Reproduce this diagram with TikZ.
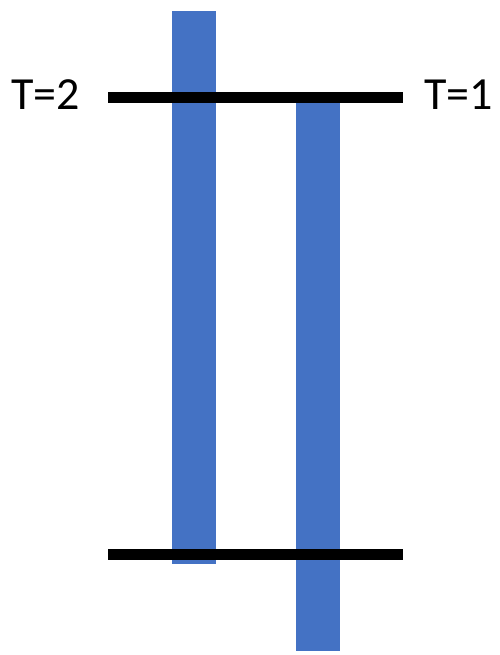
\documentclass[tikz,border=0pt]{standalone}
\usepackage{fontspec}
\setmainfont{Carlito}
\usetikzlibrary{positioning}
\definecolor{barblue}{HTML}{4472C4}

\begin{document}
\begin{tikzpicture}[x=1pt, y=-1pt,
  bar/.style={fill=barblue, draw=none},
  cut/.style={line width=11pt, black},
  lbl/.style={inner sep=0pt, font=\fontsize{46}{50}\selectfont}]
\useasboundingbox (0,0) rectangle (499,655);
\fill[bar] (172,11) rectangle (216,564);
\fill[bar] (296,100) rectangle (340,651);
\coordinate (t2) at (108,97.5);
\coordinate (t1) at (403,97.5);
\coordinate (b2) at (108,554.5);
\coordinate (b1) at (403,554.5);
\draw[cut] (t2) -- (t1);
\draw[cut] (b2) -- (b1);
\node[lbl, anchor=base west] (lt2) at (11,110) {T=2};
\node[lbl, anchor=base west] (lt1) at (424,110) {T=1};
\end{tikzpicture}
\end{document}
